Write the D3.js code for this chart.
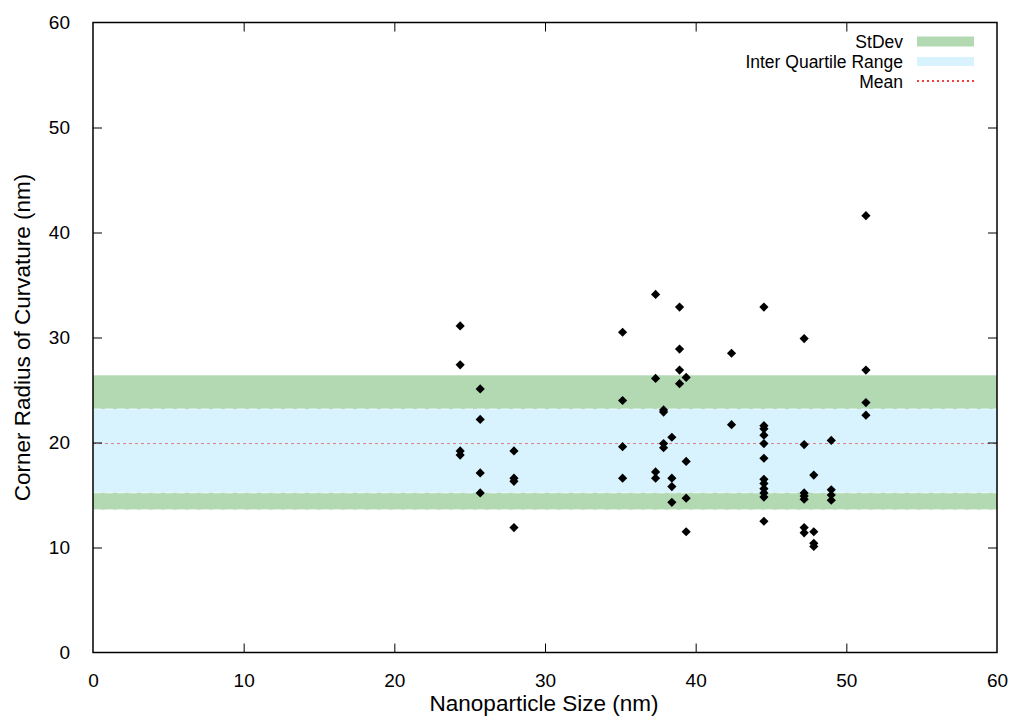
<!DOCTYPE html>
<html><head><meta charset="utf-8">
<script src="https://cdn.jsdelivr.net/npm/d3@7"></script>
<style>body{margin:0;background:#fff}svg{display:block}text{font-family:"Liberation Sans",Arial,sans-serif;fill:#000}</style>
</head><body><svg id="c" width="1016" height="717"></svg>
<script>
const xTicks=[0,10,20,30,40,50,60];
const yTicks=[0,10,20,30,40,50,60];
const sizeX=[24.37,24.37,24.37,24.37,25.7,25.7,25.7,25.7,27.94,27.94,27.94,27.94,35.15,35.15,35.15,35.15,37.34,37.34,37.34,37.34,37.87,37.87,37.87,37.87,38.42,38.42,38.42,38.42,38.93,38.93,38.93,38.93,39.37,39.37,39.37,39.37,42.38,42.38,44.53,44.53,44.53,44.53,44.53,44.53,44.53,44.53,44.53,44.53,44.53,44.53,47.2,47.2,47.2,47.2,47.2,47.2,47.2,47.84,47.84,47.84,47.84,49.0,49.0,49.0,49.0,51.3,51.3,51.3,51.3];
const radiusY=[31.1,27.4,19.2,18.8,25.1,22.2,17.1,15.2,19.2,16.6,16.3,11.9,30.5,24.0,19.6,16.6,34.1,26.1,17.2,16.6,23.1,22.9,19.9,19.5,20.5,16.6,15.8,14.3,32.9,28.9,26.9,25.6,26.2,18.2,14.7,11.5,28.5,21.7,32.9,21.6,21.3,20.7,19.9,18.5,16.5,16.1,15.6,15.2,14.8,12.5,29.9,19.8,15.2,14.9,14.6,11.9,11.4,16.9,11.5,10.4,10.1,20.2,15.5,15.0,14.5,41.6,26.9,23.8,22.6];
const stdevBand=[13.6,26.4];
const iqrBand=[15.2,23.2];
const meanVal=19.9;
const legendLabels=["StDev","Inter Quartile Range","Mean"];

const svg=d3.select("#c");
const L=93,R=997,T=22.5,B=652.5;
const x=d3.scaleLinear().domain([0,60]).range([L,R]);
const y=d3.scaleLinear().domain([0,60]).range([B,T]);

// bands
svg.append("rect").attr("x",L).attr("width",R-L).attr("y",y(stdevBand[1])).attr("height",y(stdevBand[0])-y(stdevBand[1])).attr("fill","#b3d9b3");
svg.append("rect").attr("x",L).attr("width",R-L).attr("y",y(iqrBand[1])).attr("height",y(iqrBand[0])-y(iqrBand[1])).attr("fill","#d8f3fd");
[iqrBand[0],iqrBand[1]].forEach(v=>svg.append("line").attr("x1",L).attr("x2",R).attr("y1",y(v)).attr("y2",y(v)).attr("stroke","#fff").attr("stroke-width",1).attr("stroke-dasharray","8,4").attr("opacity",0.6));
svg.append("line").attr("x1",L).attr("x2",R).attr("y1",y(stdevBand[0])).attr("y2",y(stdevBand[0])).attr("stroke","#fff").attr("stroke-dasharray","8,4").attr("opacity",0.6);
svg.append("line").attr("x1",L).attr("x2",R).attr("y1",y(meanVal)).attr("y2",y(meanVal)).attr("stroke","#d66").attr("stroke-width",0.8).attr("stroke-dasharray","3,3");

// points
const pts=sizeX.map((v,i)=>[v,radiusY[i]]);
const s=4.6;
svg.append("g").selectAll("path").data(pts).join("path")
 .attr("d",d=>`M${x(d[0])},${y(d[1])-s}L${x(d[0])+s},${y(d[1])}L${x(d[0])},${y(d[1])+s}L${x(d[0])-s},${y(d[1])}Z`)
 .attr("fill","#000");

// axes with mirrored inward ticks
const tl=9;
const gx=svg.append("g").attr("transform",`translate(0,${B})`).call(d3.axisBottom(x).tickValues(xTicks).tickSize(-tl).tickPadding(tl+12));
const gx2=svg.append("g").attr("transform",`translate(0,${T})`).call(d3.axisTop(x).tickValues(xTicks).tickSize(-tl).tickFormat(""));
const gy=svg.append("g").attr("transform",`translate(${L},0)`).call(d3.axisLeft(y).tickValues(yTicks).tickSize(-tl).tickPadding(tl+14));
const gy2=svg.append("g").attr("transform",`translate(${R},0)`).call(d3.axisRight(y).tickValues(yTicks).tickSize(-tl).tickFormat(""));
[gx,gx2,gy,gy2].forEach(g=>{g.select(".domain").remove();g.selectAll("line").attr("stroke","#000").attr("stroke-width",1);g.selectAll("text").style("font-size","19px").style("font-family","'Liberation Sans',Arial,sans-serif");});
gx.selectAll(".tick").filter(d=>d===0||d===60).select("line").remove();
gx2.selectAll(".tick").filter(d=>d===0||d===60).select("line").remove();
gy.selectAll(".tick").filter(d=>d===0||d===60).select("line").remove();
gy2.selectAll(".tick").filter(d=>d===0||d===60).select("line").remove();

svg.append("rect").attr("x",L).attr("y",T).attr("width",R-L).attr("height",B-T).attr("fill","none").attr("stroke","#000").attr("stroke-width",1.5);

// titles
svg.append("text").attr("x",(L+R)/2-1).attr("y",711).attr("text-anchor","middle").style("font-size","22.5px").text("Nanoparticle Size (nm)");
svg.append("text").attr("transform",`translate(30,${(T+B)/2}) rotate(-90)`).attr("text-anchor","middle").style("font-size","22.5px").text("Corner Radius of Curvature (nm)");

// legend
const ly=[41.5,61.5,81];
const lg=svg.append("g");
legendLabels.forEach((t,i)=>lg.append("text").attr("x",903).attr("y",ly[i]+6.5).attr("text-anchor","end").style("font-size","17.5px").text(t));
lg.append("rect").attr("x",917).attr("y",ly[0]-5).attr("width",57).attr("height",10).attr("fill","#b3d9b3");
lg.append("rect").attr("x",917).attr("y",ly[1]-4.5).attr("width",57).attr("height",9).attr("fill","#d8f3fd");
lg.append("line").attr("x1",917).attr("x2",974).attr("y1",ly[2]).attr("y2",ly[2]).attr("stroke","#e00").attr("stroke-width",1.5).attr("stroke-dasharray","2,3");
</script></body></html>
